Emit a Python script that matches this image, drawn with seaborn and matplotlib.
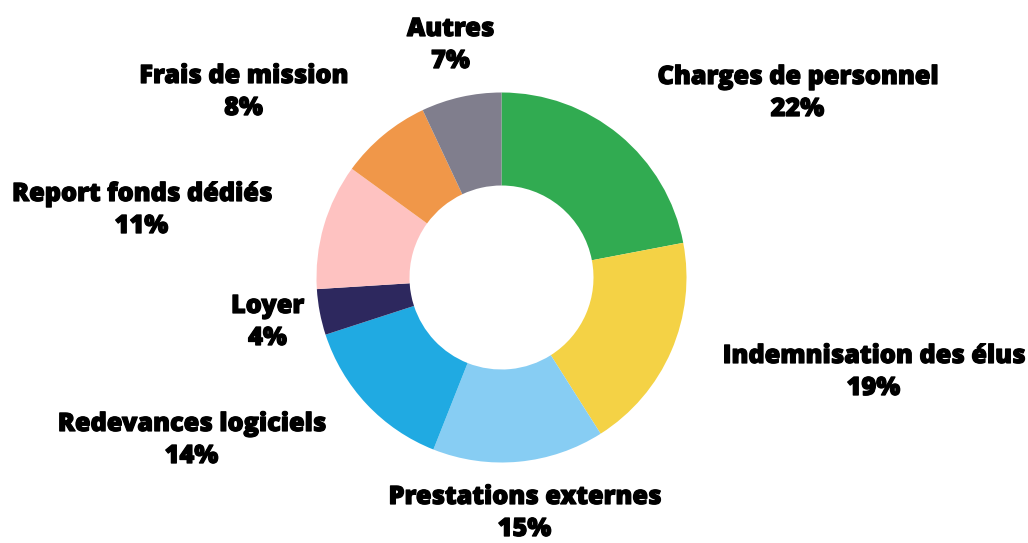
import seaborn as sns
import matplotlib.pyplot as plt
import matplotlib.patheffects as pe

# budget breakdown (percent)
categories = ['Charges de personnel', 'Indemnisation des élus', 'Prestations externes',
              'Redevances logiciels', 'Loyer', 'Report fonds dédiés',
              'Frais de mission', 'Autres']
values = [22, 19, 15, 14, 4, 11, 8, 7]
colors = ['#31AB51', '#F4D245', '#87CDF3', '#20AAE2', '#2D285E',
          '#FEC2C1', '#F09749', '#807E8D']

# label block offsets from the pie centre, in pixels
label_pos = [(296, 184), (372, -95), (23, -236), (-310, -163),
             (-234, -45), (-360, 67), (-258, 185), (-51, 232)]

sns.set_theme(style='white')
plt.rcParams['font.family'] = ['Open Sans', 'DejaVu Sans']

W, H = 1028, 543
cx, cy = 501.5, 277.5
fig = plt.figure(figsize=(W / 100, H / 100), dpi=100)
ax = fig.add_axes([0, 0, 1, 1])

ax.pie(values, colors=colors, radius=185, startangle=90, counterclock=False,
       wedgeprops=dict(width=93, linewidth=0))

# pie() resets the limits, so set them afterwards (1 unit = 1 pixel)
ax.set_xlim(-cx, W - cx)
ax.set_ylim(-(H - cy), cy)
ax.set_aspect('equal')
ax.axis('off')

# thin stroke to get closer to the extra-bold look of the original
heavy = [pe.withStroke(linewidth=0.9, foreground='black')]
for cat, val, (dx, dy) in zip(categories, values, label_pos):
    ax.text(dx, dy, f'{cat}\n{val}%', ha='center', va='center',
            fontsize=18.2, fontweight='heavy', color='black', linespacing=1.37,
            path_effects=heavy)

fig.savefig('out.png', dpi=100)
plt.close(fig)
